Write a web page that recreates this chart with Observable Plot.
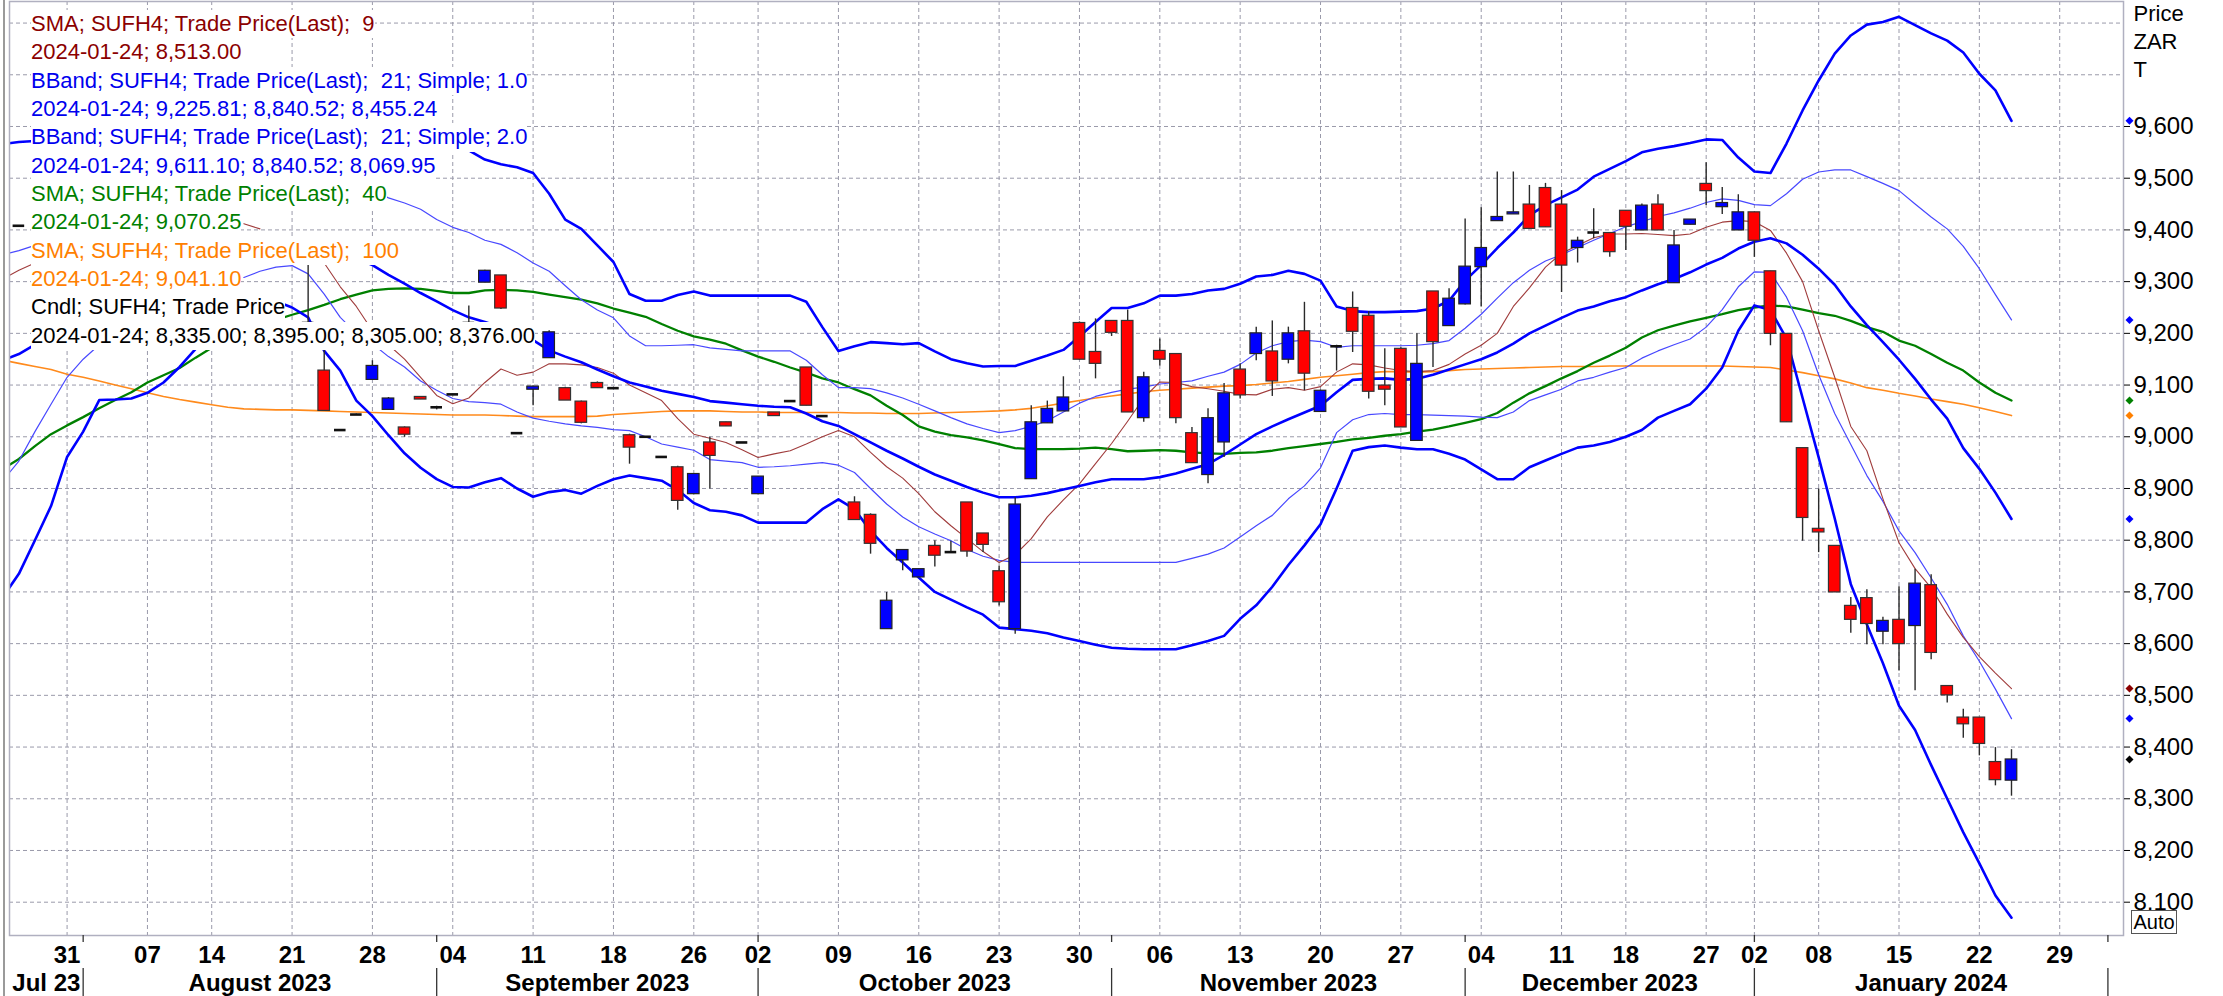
<!DOCTYPE html>
<html><head><meta charset="utf-8">
<script src="https://cdn.jsdelivr.net/npm/d3@7"></script>
<script src="https://cdn.jsdelivr.net/npm/@observablehq/plot@0.6"></script>
<style>
html,body{margin:0;padding:0;background:#fff;overflow:hidden;}
#wrap{position:relative;width:2223px;height:996px;overflow:hidden;}
#legend{position:absolute;left:31px;top:10px;font-family:"Liberation Sans",Arial,sans-serif;font-size:22px;}
#legend div{background:#fff;white-space:pre;line-height:28.33px;height:28.33px;width:fit-content;}
#auto{position:absolute;left:2131px;top:910px;width:44px;height:22px;border:1.5px solid #555;font-family:"Liberation Sans",Arial,sans-serif;font-size:20px;line-height:22px;text-align:center;background:#fff;}
#edge{position:absolute;left:3px;top:0;width:2px;height:996px;background:#9a9a9a;}
</style></head>
<body><div id="wrap"></div>
<script>
// ---------- calendar (trading days) ----------
const holidays = ["2023-08-09","2023-09-25","2023-12-15","2023-12-25","2023-12-26","2024-01-01"];
const seriesStart = "2023-07-25";
const weekTicks = ["2023-07-31","2023-08-07","2023-08-14","2023-08-21","2023-08-28","2023-09-04","2023-09-11","2023-09-18","2023-09-26","2023-10-02","2023-10-09","2023-10-16","2023-10-23","2023-10-30","2023-11-06","2023-11-13","2023-11-20","2023-11-27","2023-12-04","2023-12-11","2023-12-18","2023-12-27","2024-01-02","2024-01-08","2024-01-15","2024-01-22","2024-01-29"];
const monthStarts = ["2023-08-01","2023-09-01","2023-10-02","2023-11-01","2023-12-01","2024-01-02","2024-02-01"];
const monthLabels = ["Jul 23","August 2023","September 2023","October 2023","November 2023","December 2023","January 2024"];
const yGrid = [8100,8200,8300,8400,8500,8600,8700,8800,8900,9000,9100,9200,9300,9400,9500,9600,9700,9800];
const yLabels = [8100,8200,8300,8400,8500,8600,8700,8800,8900,9000,9100,9200,9300,9400,9500,9600];

// ---------- candles (daily, from 2023-07-25) ----------
const open = [
 null,9408,null,null,null,null,null,null,null,null,
 null,null,null,null,null,null,null,null,null,9220,
 9128,9013,9043,9110,9052,9018,9077,9057,9082,9220,
 9298,9312,9007,9091,9152,9094,9068,9104,9094,9003,
 9000,8961,8941,8889,8989,9028,8989,8889,9047,9069,
 9134,9040,null,8873,8849,8628,8761,8728,8789,8777,
 8873,8813,8740,8628,8918,9026,9049,9220,9164,9224,
 9224,9036,9166,9160,9007,8926,8989,9130,9160,9165,
 9149,9204,9048,9175,9249,9234,9099,9170,8992,9281,
 9214,9256,9328,9417,9430,9449,9481,9449,9365,9395,
 9394,9437,9399,9449,9297,9410,9489,9444,9399,9434,
 9320,9199,8978,8822,8789,8673,8688,8623,8646,8634,
 8713,8518,8457,8457,8371,8335];
const high = [
 null,9408,null,null,null,null,null,null,null,null,
 null,null,null,null,null,null,null,null,null,9335,
 9173,9014,9044,9147,9076,9019,9077,9059,9082,9253,
 9322,9312,9007,9098,9205,9096,9069,9106,9094,9005,
 9000,8961,8943,8928,8999,9028,8989,8923,9047,9069,
 9134,9040,null,8884,8851,8699,8781,8744,8799,8798,
 8873,8813,8750,8882,9060,9069,9116,9222,9228,9224,
 9245,9125,9189,9160,9018,9054,9103,9141,9212,9224,
 9212,9260,9090,9177,9280,9242,9170,9172,9199,9281,
 9286,9421,9443,9512,9512,9486,9490,9476,9386,9441,
 9394,9437,9450,9468,9399,9420,9530,9482,9468,9434,
 9320,9199,8978,8899,8789,8689,8704,8651,8710,8744,
 8733,8518,8473,8457,8399,8395];
const low = [
 null,9408,null,null,null,null,null,null,null,null,
 null,null,null,null,null,null,null,null,null,9215,
 9050,9011,9042,9110,9051,8999,9072,9052,9082,9215,
 9298,9246,9007,9060,9152,9070,9025,9094,9094,8947,
 9000,8961,8858,8889,8899,9020,8989,8889,9040,9069,
 9060,9040,null,8839,8773,8628,8741,8728,8748,8776,
 8767,8776,8673,8618,8918,9026,9049,9148,9112,9194,
 9047,9028,9137,9025,8949,8909,8960,9073,9147,9078,
 9141,9089,9048,9127,9163,9073,9060,9018,8992,9134,
 9213,9255,9251,9417,9430,9402,9405,9279,9336,9383,
 9347,9360,9399,9399,9297,9410,9447,9430,9399,9347,
 9176,9028,8798,8776,8699,8620,8598,8598,8547,8509,
 8569,8485,8417,8383,8325,8305];
const close = [
 null,9408,null,null,null,null,null,null,null,null,
 null,null,null,null,null,null,null,null,null,9220,
 9050,9012,9043,9137,9074,9004,9072,9057,9082,9220,
 9321,9248,9007,9097,9202,9070,9027,9094,9094,8979,
 9000,8961,8876,8928,8963,9020,8989,8923,9040,9069,
 9060,9040,null,8839,8793,8683,8781,8744,8770,8777,
 8778,8791,8680,8869,9028,9054,9076,9149,9141,9201,
 9047,9115,9149,9036,8949,9036,9084,9080,9200,9107,
 9200,9122,9089,9175,9203,9087,9091,9018,9141,9183,
 9267,9329,9365,9425,9434,9402,9405,9331,9379,9395,
 9357,9406,9447,9399,9370,9420,9475,9452,9434,9379,
 9199,9028,8843,8815,8699,8646,8638,8644,8599,8716,
 8582,8500,8444,8406,8336,8376];

// ---------- indicator lines (daily, from 2023-07-25; null = hidden by legend) ----------
const bbU2 = [
 9566,9570,9572,null,null,null,null,null,null,null,
 null,null,null,null,null,null,null,null,null,null,
 null,null,null,null,null,null,null,null,null,9554,
 9536,9527,9521,9510,9470,9420,9402,9370,9338,9276,
 9263,9263,9274,9281,9273,9273,9273,9273,9273,9273,
 9261,9212,9166,9175,9183,9181,9179,9181,9165,9150,
 9142,9136,9137,9137,9147,9157,9168,9194,9222,9249,
 9249,9258,9273,9273,9276,9283,9286,9296,9310,9313,
 9321,9315,9302,9252,9243,9241,9241,9242,9243,9248,
 9263,9302,9332,9365,9395,9428,9448,9463,9478,9503,
 9518,9533,9550,9557,9562,9568,9575,9574,9540,9513,
 9510,9567,9631,9689,9741,9776,9797,9802,9812,9796,
 9780,9766,9743,9702,9670,9611];
const bbU1 = [
 9352,9360,9370,null,null,null,null,null,null,null,
 null,null,null,null,null,null,null,null,null,null,
 null,null,null,9476,9462,9452,9440,9420,9405,9395,
 9380,9372,9356,9336,9320,9292,9265,9245,9230,9195,
 9176,9176,9177,9178,9172,9169,9166,9166,9166,9166,
 9148,9120,9095,9095,9093,9085,9075,9063,9050,9037,
 9025,9016,9008,9012,9020,9031,9048,9065,9078,9086,
 9092,9096,9102,9105,9108,9117,9125,9140,9162,9176,
 9184,9187,9184,9173,9176,9176,9176,9176,9177,9180,
 9186,9210,9237,9268,9298,9322,9340,9352,9366,9380,
 9393,9406,9416,9426,9433,9442,9453,9460,9457,9449,
 9447,9470,9498,9512,9516,9516,9503,9490,9476,9450,
 9425,9402,9368,9325,9275,9226];
const bbMid = [
 9148,9160,9178,null,null,null,null,null,null,null,
 null,null,null,null,null,null,null,null,null,null,
 null,null,9345,9332,9313,9296,9278,9262,9245,9231,
 9222,9212,9200,9187,9167,9155,9144,9130,9117,9105,
 9097,9089,9083,9077,9069,9066,9063,9060,9058,9057,
 9045,9030,9021,9005,8989,8973,8958,8942,8927,8915,
 8903,8892,8883,8883,8886,8891,8898,8905,8912,8918,
 8918,8918,8922,8929,8938,8947,8965,8985,9005,9020,
 9034,9047,9060,9086,9110,9112,9113,9110,9112,9120,
 9130,9140,9150,9163,9180,9200,9215,9230,9244,9252,
 9262,9270,9283,9295,9305,9318,9333,9346,9364,9377,
 9384,9374,9352,9325,9294,9252,9216,9183,9149,9112,
 9072,9035,8978,8938,8892,8841];
const bbL1 = [
 8915,8953,9010,9063,9115,9150,9178,null,null,null,
 null,null,null,null,null,9308,9320,9328,9331,9315,
 9276,9231,9200,9180,9155,9135,9108,9090,9074,9068,
 9066,9063,9048,9036,9030,9025,9021,9018,9014,9012,
 9000,8986,8980,8974,8956,8953,8950,8941,8942,8944,
 8947,8950,8945,8931,8900,8870,8845,8826,8812,8799,
 8782,8769,8761,8757,8757,8757,8757,8757,8757,8757,
 8757,8757,8757,8757,8765,8773,8785,8806,8828,8848,
 8880,8905,8940,9008,9033,9043,9045,9043,9043,9042,
 9041,9040,9038,9037,9048,9070,9081,9092,9108,9115,
 9125,9134,9152,9166,9178,9189,9212,9246,9290,9319,
 9318,9270,9205,9120,9045,8985,8925,8875,8818,8776,
 8727,8676,8615,8566,8512,8455];
const bbL2 = [
 8690,8735,8800,8866,8961,9010,9071,9072,9074,9085,
 9105,9135,9170,null,null,null,null,9262,9250,9231,
 9166,9128,9070,9040,9003,8968,8940,8918,8903,8902,
 8912,8920,8900,8884,8893,8897,8890,8905,8918,8925,
 8920,8915,8897,8872,8858,8855,8848,8834,8834,8834,
 8834,8860,8879,8860,8818,8785,8757,8728,8700,8685,
 8670,8656,8631,8628,8625,8620,8612,8605,8598,8592,
 8590,8589,8589,8589,8597,8605,8615,8648,8674,8710,
 8752,8790,8831,8900,8973,8980,8983,8979,8976,8976,
 8967,8956,8937,8918,8918,8941,8954,8967,8979,8983,
 8990,9000,9013,9037,9050,9063,9093,9134,9205,9254,
 9245,9190,9075,8960,8842,8715,8637,8562,8480,8433,
 8365,8300,8235,8175,8113,8070];
const sma9 = [
 9305,9322,9336,null,null,null,null,null,null,null,
 null,null,null,null,null,9412,9402,null,null,null,
 9336,9290,9252,9205,9178,9150,9115,9080,9064,9075,
 9105,9131,9119,9125,9141,9141,9139,9134,9123,9100,
 9085,9070,9035,9005,8997,8989,8975,8960,8967,8973,
 8986,9000,9012,9000,8970,8942,8920,8890,8855,8828,
 8803,8778,8757,8772,8803,8845,8878,8909,8948,8987,
 9030,9075,9106,9105,9097,9093,9088,9082,9081,9092,
 9095,9090,9097,9125,9141,9139,9133,9128,9126,9128,
 9140,9160,9177,9200,9252,9288,9328,9355,9370,9385,
 9392,9392,9393,9391,9389,9392,9405,9415,9418,9416,
 9399,9355,9300,9205,9115,9020,8973,8880,8795,8745,
 8708,8657,8612,8575,8543,8513];
const sma40 = [
 8938,8957,8982,9005,9022,9038,9055,9071,9086,9105,
 9119,9133,9153,9172,null,null,null,9226,9236,9245,
 9255,9266,9275,9283,9286,9287,9286,9282,9278,9278,
 9283,9284,9283,9280,9275,9270,9265,9258,9248,9240,
 9232,9218,9205,9194,9188,9180,9167,9155,9145,9134,
 9124,9113,9105,9092,9080,9060,9042,9020,9010,9003,
 8999,8993,8986,8978,8976,8976,8976,8977,8979,8976,
 8972,8973,8974,8973,8970,8968,8967,8969,8970,8973,
 8978,8982,8986,8990,8995,8998,9002,9005,9010,9014,
 9020,9027,9034,9046,9066,9084,9098,9113,9127,9143,
 9157,9172,9192,9206,9215,9223,9230,9237,9245,9250,
 9254,9252,9246,9239,9234,9224,9212,9203,9186,9176,
 9160,9143,9128,9105,9085,9070];
const sma100 = [
 9148,9142,9136,9130,9121,9115,9108,9100,9093,9085,
 9078,9072,9067,9062,9057,9054,9053,9052,9052,9051,
 9050,9049,9048,9047,9046,9045,9044,9043,9042,9042,
 9042,9041,9040,9039,9039,9039,9039,9040,9043,9045,
 9047,9049,9050,9050,9050,9049,9048,9048,9047,9047,
 9047,9047,9047,9046,9046,9045,9045,9045,9046,9047,
 9048,9049,9050,9052,9055,9060,9065,9070,9075,9079,
 9083,9087,9090,9092,9094,9096,9098,9099,9101,9104,
 9107,9111,9115,9118,9121,9124,9126,9126,9125,9126,
 9128,9130,9131,9132,9133,9134,9135,9136,9136,9136,
 9137,9137,9137,9137,9137,9137,9137,9137,9136,9135,
 9134,9129,9124,9118,9112,9104,9095,9090,9084,9079,
 9073,9068,9063,9056,9049,9041];

const legendRows = [
 ["SMA; SUFH4; Trade Price(Last);  9", "#8b0000"],
 ["2024-01-24; 8,513.00", "#8b0000"],
 ["BBand; SUFH4; Trade Price(Last);  21; Simple; 1.0", "#0000ee"],
 ["2024-01-24; 9,225.81; 8,840.52; 8,455.24", "#0000ee"],
 ["BBand; SUFH4; Trade Price(Last);  21; Simple; 2.0", "#0000ee"],
 ["2024-01-24; 9,611.10; 8,840.52; 8,069.95", "#0000ee"],
 ["SMA; SUFH4; Trade Price(Last);  40", "#008000"],
 ["2024-01-24; 9,070.25", "#008000"],
 ["SMA; SUFH4; Trade Price(Last);  100", "#ff8000"],
 ["2024-01-24; 9,041.10", "#ff8000"],
 ["Cndl; SUFH4; Trade Price", "#000000"],
 ["2024-01-24; 8,335.00; 8,395.00; 8,305.00; 8,376.00", "#000000"]
];

// ---------- build ----------
const fmt = d3.utcFormat("%Y-%m-%d");
const tradingDays = d3.utcDay.range(new Date(Date.UTC(2023,6,25)), new Date(Date.UTC(2024,1,3)))
  .filter(d => d.getUTCDay() !== 0 && d.getUTCDay() !== 6).map(fmt)
  .filter(s => !holidays.includes(s));
const pos = new Map(tradingDays.map((d, i) => [d, i]));
const s0 = pos.get(seriesStart);
const xDomain = [0.416, 131.97];
const yDomain = [8035.6, 9841.7];
const pts = arr => arr.map((v, k) => ({x: s0 + k, y: v == null ? NaN : v}));

const candles = open.map((o, k) => ({x: s0 + k, o, h: high[k], l: low[k], c: close[k]})).filter(d => d.o != null);
const up = candles.filter(d => d.c - d.o >= 2);
const down = candles.filter(d => d.o - d.c >= 2);
const doji = candles.filter(d => Math.abs(d.c - d.o) < 2);
const bw = 0.36;

const weekData = weekTicks.map(d => ({x: pos.get(d), label: d.slice(8)}));
const mPos = monthStarts.map(d => pos.get(d));
const bounds = [xDomain[0], ...mPos];
const monthData = monthLabels.map((label, i) => ({label, x: (bounds[i] + bounds[i + 1]) / 2}));

const last = a => a[a.length - 1];
const markers = [
 [last(bbU2), "#0000ff"], [last(bbU1), "#0000ff"], [last(sma40), "#008000"], [last(sma100), "#ff8000"],
 [last(bbMid), "#0000ff"], [last(sma9), "#8b0000"], [last(bbL1), "#0000ff"], [last(close), "#000000"]
];

const gridStyle = {stroke: "#9a9aaa", strokeDasharray: "4,3", strokeWidth: 1};
const lineMark = (arr, stroke, strokeWidth, extra = {}) =>
  Plot.line(pts(arr), {x: "x", y: "y", stroke, strokeWidth, clip: true, ...extra});

const chart = Plot.plot({
  width: 2223, height: 996,
  marginTop: 1, marginRight: 100, marginBottom: 61, marginLeft: 9,
  x: {domain: xDomain, axis: null},
  y: {domain: yDomain},
  style: {fontFamily: "'Liberation Sans', Arial, sans-serif", fontSize: "24px", background: "#fff", color: "#000"},
  marks: [
    Plot.ruleY(yGrid, gridStyle),
    Plot.ruleX(weekData, {x: "x", ...gridStyle}),
    lineMark(sma100, "#ff8a1c", 1.6),
    lineMark(sma40, "#008000", 2.3),
    lineMark(bbU1, "#4848ff", 1.2),
    lineMark(bbL1, "#4848ff", 1.2),
    lineMark(sma9, "#a03c3c", 1.1),
    lineMark(bbU2, "#0000ff", 2.6),
    lineMark(bbMid, "#0000ff", 2.6),
    lineMark(bbL2, "#0000ff", 2.6),
    Plot.ruleX(candles, {x: "x", y1: "l", y2: "h", stroke: "#2a2a2a", strokeWidth: 1.4}),
    Plot.rect(up, {x1: d => d.x - bw, x2: d => d.x + bw, y1: "o", y2: "c", fill: "#0000ff", stroke: "#222", strokeWidth: 1.2}),
    Plot.rect(down, {x1: d => d.x - bw, x2: d => d.x + bw, y1: "o", y2: "c", fill: "#ff0000", stroke: "#333", strokeWidth: 1.2}),
    Plot.ruleY(doji, {x1: d => d.x - bw, x2: d => d.x + bw, y: "o", stroke: "#111", strokeWidth: 2.6}),
    Plot.frame({stroke: "#b0b0c0", strokeWidth: 1.5}),
    Plot.axisY(yLabels, {anchor: "right", tickSize: 6, tickPadding: 4, tickFormat: d3.format(","), fontSize: 24}),
    Plot.text(["Price\nZAR\nT"], {text: d => d, frameAnchor: "top-right", textAnchor: "start", lineAnchor: "top", dx: 10, dy: 0, fontSize: 22, lineHeight: 1.27}),
    Plot.text(weekData, {x: "x", text: "label", frameAnchor: "bottom", lineAnchor: "bottom", dy: 27, fontSize: 24, fontWeight: "bold"}),
    Plot.text(monthData, {x: "x", text: "label", frameAnchor: "bottom", lineAnchor: "bottom", dy: 55, fontSize: 24, fontWeight: "bold"}),
    Plot.ruleX(mPos, {insetTop: 967, insetBottom: -61, stroke: "#333", strokeWidth: 1.3}),
    Plot.ruleX(mPos, {insetTop: 934, insetBottom: -7, stroke: "#333", strokeWidth: 1.3}),
    ...markers.map(([v, c]) => Plot.dot([v], {x: () => xDomain[1], y: d => d, dx: 6, fill: c, stroke: null, symbol: "diamond2", r: 3.6}))
  ]
});

const wrap = document.getElementById("wrap");
wrap.appendChild(chart);
const edge = document.createElement("div");
edge.id = "edge";
wrap.appendChild(edge);
const legend = document.createElement("div");
legend.id = "legend";
for (const [t, c] of legendRows) {
  const row = document.createElement("div");
  row.textContent = t;
  row.style.color = c;
  legend.appendChild(row);
}
wrap.appendChild(legend);
const auto = document.createElement("div");
auto.id = "auto";
auto.textContent = "Auto";
wrap.appendChild(auto);
</script>
</body></html>
